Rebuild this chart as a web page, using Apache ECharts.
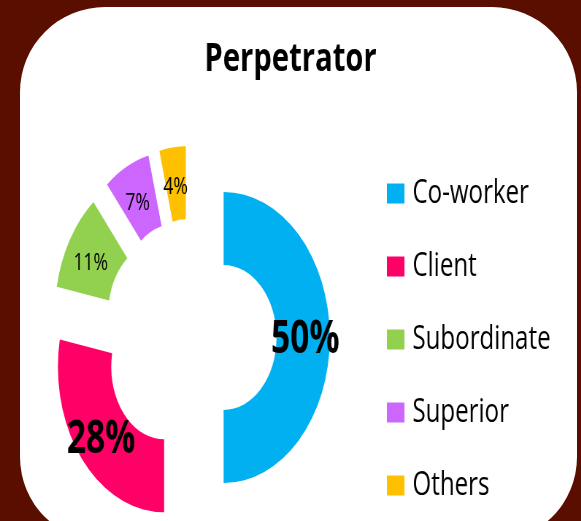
<!DOCTYPE html>
<html>
<head>
<meta charset="utf-8">
<title>Perpetrator</title>
<script src="https://cdn.jsdelivr.net/npm/echarts@6/dist/echarts.min.js"></script>
<style>
    html, body {
        margin: 0;
        padding: 0;
        width: 581px;
        height: 521px;
        overflow: hidden;
        background: #5a0e00;
    }
    #panel {
        position: absolute;
        left: 20px;
        top: 7px;
        width: 557px;
        height: 535px;
        background: #fff;
        border-radius: 85px;
    }
    /* the original picture is squeezed horizontally, so draw wide and scale down */
    #chart {
        position: absolute;
        left: 0;
        top: 0;
        width: 796px;
        height: 521px;
        transform: scaleX(0.73);
        transform-origin: 0 0;
    }
</style>
</head>
<body>
<div id="panel"></div>
<div id="chart"></div>
<script>
    const SQUISH = 0.73;

    const categories = ['Co-worker', 'Client', 'Subordinate', 'Superior', 'Others'];
    const shares = [50, 28, 11, 7, 4];
    const colors = ['#00b0f0', '#ff0066', '#92d050', '#cc66ff', '#ffc000'];

    const font = '"Open Sans", "Noto Sans", sans-serif';

    const chart = echarts.init(document.getElementById('chart'));

    const isBig = (i) => shares[i] >= 20;

    const pieData = categories.map((name, i) => {
        return {
            name: name,
            value: shares[i],
            selected: true,
            itemStyle: {color: colors[i]},
            label: {
                fontSize: isBig(i) ? 46 : 24,
                fontWeight: isBig(i) ? 'bold' : 'normal'
            }
        };
    });

    const option = {
        animation: false,
        backgroundColor: 'transparent',
        title: {
            text: 'Perpetrator',
            left: 'center',
            top: 35,
            textStyle: {
                fontFamily: font,
                fontSize: 40,
                fontWeight: 'bold',
                color: '#000'
            }
        },
        legend: {
            orient: 'vertical',
            left: 530,
            top: 177,
            padding: 0,
            icon: 'rect',
            itemWidth: 24,
            itemHeight: 20,
            itemGap: 40,
            selectedMode: false,
            data: categories,
            textStyle: {
                fontFamily: font,
                fontSize: 33,
                lineHeight: 32,
                color: '#000',
                padding: [0, 0, 0, 6]
            }
        },
        series: [{
            type: 'pie',
            center: [190 / SQUISH, 337.5],
            radius: [72.5, 145.5],
            startAngle: 90,
            clockwise: true,
            selectedMode: 'multiple',
            selectedOffset: 46,
            itemStyle: {borderWidth: 0},
            select: {itemStyle: {borderWidth: 0}},
            emphasis: {disabled: true},
            labelLine: {show: false},
            label: {
                show: true,
                position: 'inside',
                formatter: '{c}%',
                fontFamily: font,
                color: '#000'
            },
            // text sits a little below the ring's mid line in the original
            labelLayout: function (params) {
                return {dy: isBig(params.dataIndex) ? 2 : 6};
            },
            data: pieData
        }]
    };

    chart.setOption(option);
</script>
</body>
</html>
